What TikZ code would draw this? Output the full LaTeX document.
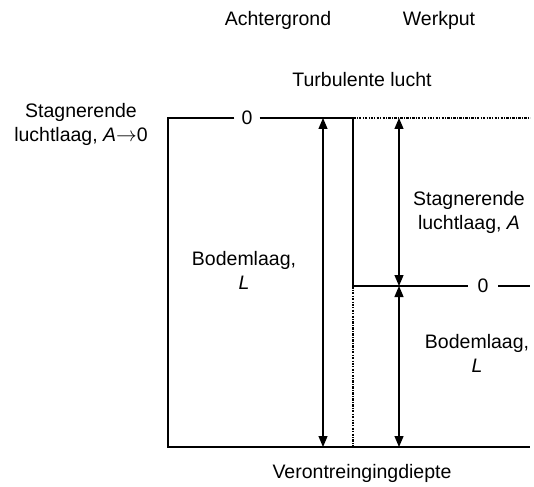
\documentclass[tikz,border=0pt]{standalone}
\usepackage{fontspec}
\setmainfont{Liberation Sans}
\usetikzlibrary{arrows.meta}
\begin{document}
\begin{tikzpicture}[x=1pt,y=-1pt,
  font=\fontsize{19.5}{24}\selectfont,
  line/.style={line width=1.2pt},
  dotline/.style={line width=1.2pt,dash pattern=on 2.5pt off 1.2pt on 1pt off 1.2pt},
  span/.style={line width=1.2pt,{Triangle[length=11pt,width=9pt]}-{Triangle[length=11pt,width=9pt]}},
  lbl/.style={align=center,inner sep=0pt,anchor=base},
  zero/.style={inner xsep=7pt,inner ysep=0pt}]
\useasboundingbox (0,0) rectangle (534,486);

% column headings and labels (base = baseline of the last line)
\node[lbl] (bg)   at (278,26) {Achtergrond};
\node[lbl] (wp)   at (439,26) {Werkput};
\node[lbl] (turb) at (362,87) {Turbulente lucht};
\node[lbl] (stagL) at (81,142) {Stagnerende\\luchtlaag, \textit{A}$\rightarrow$0};
\node[lbl] (bodL)  at (244,289) {Bodemlaag,\\\textit{L}};
\node[lbl] (stagR) at (469,229) {Stagnerende\\luchtlaag, \textit{A}};
\node[lbl] (bodR)  at (477,372) {Bodemlaag,\\\textit{L}};
\node[lbl] (depth) at (362,478) {Verontreingingdiepte};

% corner points of the profile
\coordinate (tl) at (168,118);
\coordinate (bl) at (168,447);
\coordinate (br) at (530,447);
\coordinate (tm) at (353,118);
\coordinate (mm) at (353,286);
\coordinate (bm) at (353,447);
\coordinate (tr) at (530,118);
\coordinate (mr) at (530,286);

% zero levels
\node[zero] (z1) at (247,118) {0};
\node[zero,inner xsep=9.5pt] (z2) at (483,286) {0};

% background column outline
\draw[line] (z1.west) -- (tl) -- (bl) -- (br);
\draw[line] (z1.east) -- (tm) -- (mm);
\draw[dotline] (mm) -- (bm);
\draw[dotline] (tm) -- (tr);
\draw[line] (mm) -- (z2.west);
\draw[line] (z2.east) -- (mr);

% thickness arrows
\coordinate (a1t) at (323,118);
\coordinate (a1b) at (323,447);
\coordinate (a2t) at (399,118);
\coordinate (a2m) at (399,286);
\coordinate (a2b) at (399,447);
\draw[span] (a1t) -- (a1b);
\draw[span] (a2t) -- (a2m);
\draw[span] (a2m) -- (a2b);
\end{tikzpicture}
\end{document}
